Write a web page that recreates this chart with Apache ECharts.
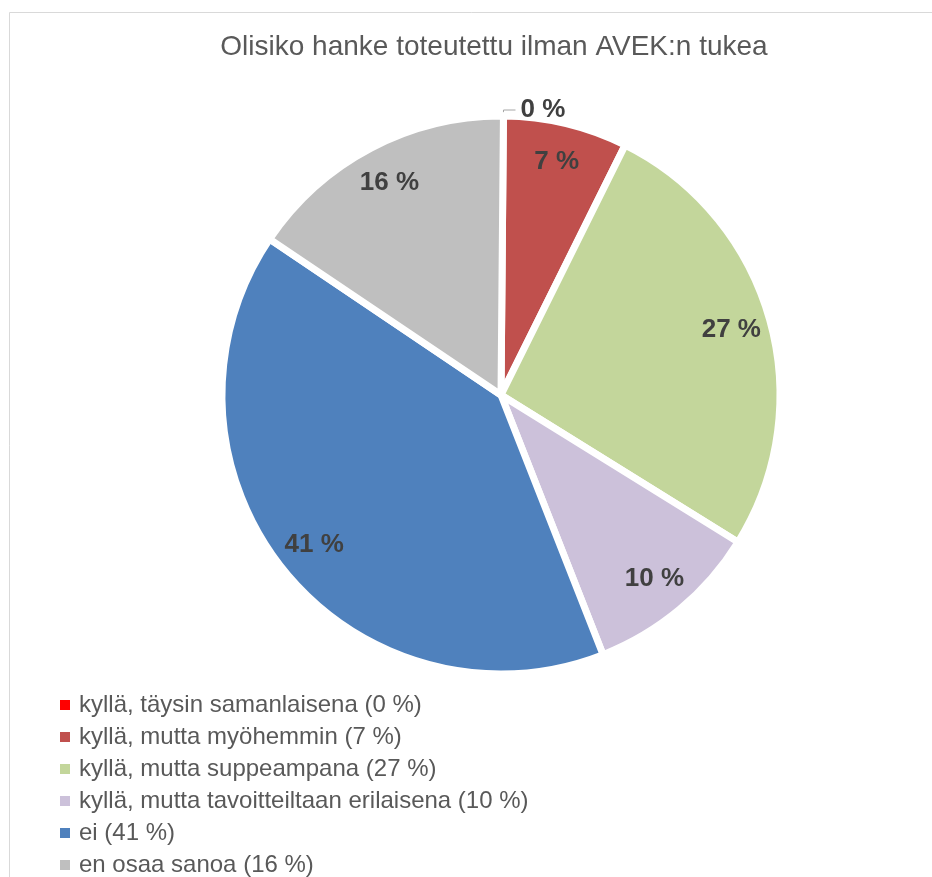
<!DOCTYPE html>
<html>
<head>
<meta charset="utf-8">
<script src="https://cdn.jsdelivr.net/npm/echarts@6/dist/echarts.min.js"></script>
<style>
  html, body { margin: 0; padding: 0; background: #fff; }
  #main { width: 932px; height: 877px; }
</style>
</head>
<body>
<div id="main"></div>
<script>
// vastausvaihtoehdot
var categories = [
  "kyllä, täysin samanlaisena",
  "kyllä, mutta myöhemmin",
  "kyllä, mutta suppeampana",
  "kyllä, mutta tavoitteiltaan erilaisena",
  "ei",
  "en osaa sanoa"
];
// osuudet (arvioitu kuvasta)
var shares = [0, 7.2, 26.5, 10.2, 40.4, 15.7];
// näytettävät prosentit
var pctLabels = [0, 7, 27, 10, 41, 16];
var colors = ["#FF0000", "#C0504D", "#C3D69B", "#CCC1DA", "#4F81BD", "#BFBFBF"];

var center = [501, 395];
var R = 279;
var font = "'Liberation Sans', Arial, sans-serif";

var pieData = categories.map(function (c, i) {
  var item = { name: c, value: shares[i], itemStyle: { color: colors[i] } };
  if (i === 0) {
    item.label = {
      show: true,
      position: "outside",
      formatter: pctLabels[i] + " %",
      fontSize: 26,
      fontWeight: "bold",
      color: "#404040",
      fontFamily: font
    };
    item.labelLine = { show: true, length: 6, length2: 12, lineStyle: { color: "#A6A6A6", width: 1 } };
  }
  return item;
});

// läpinäkyvä rengas vain sisäisiä tekstejä varten
var labelData = categories.map(function (c, i) {
  return {
    name: c,
    value: shares[i],
    label: { show: i !== 0, formatter: pctLabels[i] + " %" }
  };
});

var chart = echarts.init(document.getElementById("main"));
chart.setOption({
  animation: false,
  backgroundColor: "#fff",
  title: {
    text: "Olisiko hanke toteutettu ilman AVEK:n tukea",
    left: 489,
    textAlign: "center",
    top: 28,
    textStyle: { fontSize: 28, fontWeight: "normal", color: "#595959", fontFamily: font }
  },
  graphic: [{
    type: "rect",
    shape: { x: 9.5, y: 12.5, width: 1000, height: 1000 },
    style: { fill: "none", stroke: "#D9D9D9", lineWidth: 1 },
    silent: true
  }],
  legend: {
    orient: "vertical",
    left: 53,
    top: 688,
    height: 190,
    itemWidth: 12,
    itemHeight: 12,
    itemGap: 8,
    icon: "rect",
    data: categories,
    formatter: function (name) {
      return name + " (" + pctLabels[categories.indexOf(name)] + " %)";
    },
    textStyle: { fontSize: 24, color: "#595959", fontFamily: font, padding: [0, 0, 0, 3] }
  },
  series: [
    {
      type: "pie",
      center: center,
      radius: R,
      startAngle: 89.5,
      clockwise: true,
      avoidLabelOverlap: false,
      stillShowZeroSum: true,
      itemStyle: { borderColor: "#fff", borderWidth: 7 },
      label: { show: false },
      labelLine: { show: false },
      emphasis: { disabled: true },
      data: pieData
    },
    {
      type: "pie",
      center: center,
      radius: [194, R],
      startAngle: 89.5,
      clockwise: true,
      silent: true,
      legendHoverLink: false,
      itemStyle: { color: "rgba(0,0,0,0)" },
      label: {
        position: "inside",
        fontSize: 26,
        fontWeight: "bold",
        color: "#404040",
        fontFamily: font
      },
      labelLine: { show: false },
      data: labelData
    }
  ]
});
</script>
</body>
</html>
